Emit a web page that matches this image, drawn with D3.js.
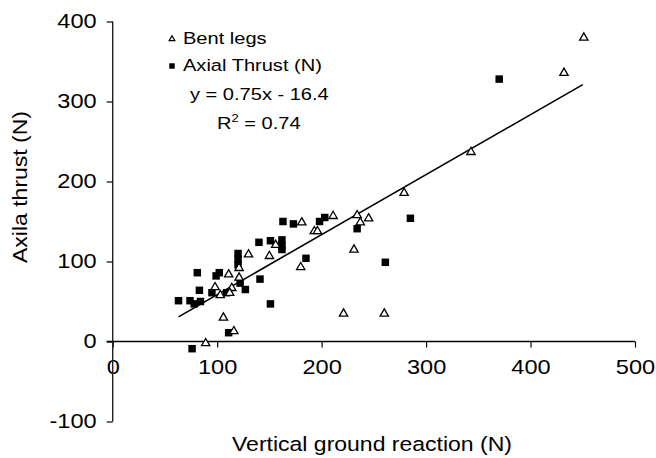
<!DOCTYPE html>
<html>
<head>
<meta charset="utf-8">
<script src="https://cdn.jsdelivr.net/npm/d3@7"></script>
<style>
  html, body { margin: 0; padding: 0; background: #fff; }
  svg { display: block; }
  text { font-family: "Liberation Sans", Arial, sans-serif; fill: #000; }
</style>
</head>
<body>
<svg id="chart" width="656" height="458"></svg>
<script>
// ---- data ----
const bentX = [451, 432, 343, 279, 234, 237, 245, 211, 181, 193, 196, 231, 180, 156, 150, 130, 121, 111, 121, 98, 114, 112, 103, 106, 116, 89, 221, 260];
const bentY = [381, 337, 238, 187, 159, 150, 155, 158, 150, 139, 139, 116, 94, 122, 108, 110, 93, 85, 81, 69, 68, 62, 59, 31, 14, -1, 36, 36];
const thrustX = [370, 285, 261, 234, 203, 198, 185, 173, 163, 162, 162, 162, 151, 140, 141, 151, 120, 120, 120, 81, 102, 99, 122, 127, 83, 95, 109, 63, 74, 78, 84, 111, 76];
const thrustY = [328, 154, 99, 141, 155, 150, 104, 147, 150, 127, 120, 115, 126, 124, 78, 47, 110, 103, 96, 86, 86, 82, 73, 65, 64, 61, 61, 51, 51, 47, 50, 11, -9];
const xTicks = [0, 100, 200, 300, 400, 500];
const yTicks = [-100, 0, 100, 200, 300, 400];
const fitSlope = 0.75, fitIntercept = -16.4;
const fitRange = [63, 450];
const seriesNames = ["Bent legs", "Axial Thrust (N)"];
const xTitle = "Vertical ground reaction  (N)";
const yTitle = "Axila thrust (N)";

// ---- layout ----
const SX = 1.18; // horizontal text stretch of the original
const svg = d3.select("#chart");
const x = d3.scaleLinear().domain([0, 500]).range([112.7, 635]);
const y = d3.scaleLinear().domain([-100, 400]).range([421.5, 21.5]);

function stretchedText(g, tx, ty, str, size, anchor) {
  return g.append("text")
    .attr("transform", `translate(${tx},${ty}) scale(${SX},1)`)
    .attr("text-anchor", anchor || "start")
    .style("font-size", size + "px")
    .text(str);
}
const fmt = d => String(d);

// x axis at y = 0
const xAxis = svg.append("g")
  .attr("transform", `translate(0,${y(0)})`)
  .call(d3.axisBottom(x).tickValues(xTicks).tickSize(6).tickPadding(12).tickFormat(fmt));
xAxis.select(".domain").attr("d", `M${x(0) - 6},0H${x(500)}`).attr("stroke", "#000").attr("stroke-width", 1.4);
xAxis.selectAll(".tick line").attr("stroke", "#000").attr("stroke-width", 1.2);
xAxis.selectAll(".tick text")
  .style("font-size", "20px").style("font-family", "Liberation Sans, Arial, sans-serif")
  .attr("fill", "#000")
  .attr("transform", `scale(${SX},1)`);

// y axis at x = 0
const yAxis = svg.append("g")
  .attr("transform", `translate(${x(0)},0)`)
  .call(d3.axisLeft(y).tickValues(yTicks).tickSize(6).tickPadding(10).tickFormat(fmt));
yAxis.select(".domain").attr("d", `M0,${y(400)}V${y(-100)}`).attr("stroke", "#222").attr("stroke-width", 1.4);
yAxis.selectAll(".tick line").attr("stroke", "#000").attr("stroke-width", 1.2);
yAxis.selectAll(".tick text")
  .style("font-size", "20px").style("font-family", "Liberation Sans, Arial, sans-serif")
  .attr("fill", "#000")
  .each(function () {
    const t = d3.select(this);
    const tx = +t.attr("x");
    t.attr("x", 0).attr("transform", `translate(${tx},0) scale(${SX},1)`);
  });

// regression line
const fitData = fitRange.map(v => [v, fitSlope * v + fitIntercept]);
svg.append("path")
  .datum(fitData)
  .attr("d", d3.line().x(d => x(d[0])).y(d => y(d[1])))
  .attr("stroke", "#000").attr("stroke-width", 1.6).attr("fill", "none");

// points
const bent = bentX.map((v, i) => [v, bentY[i]]);
const thrust = thrustX.map((v, i) => [v, thrustY[i]]);
const tri = d3.symbol().type(d3.symbolTriangle).size(30);
const sq = d3.symbol().type(d3.symbolSquare).size(56);

svg.append("g").selectAll("path").data(thrust).join("path")
  .attr("d", sq)
  .attr("transform", d => `translate(${x(d[0])},${y(d[1])})`)
  .attr("fill", "#000");

svg.append("g").selectAll("path").data(bent).join("path")
  .attr("d", tri)
  .attr("transform", d => `translate(${x(d[0])},${y(d[1]) + 1})`)
  .attr("fill", "#fff").attr("stroke", "#000").attr("stroke-width", 1.3);

// legend
const leg = svg.append("g");
leg.append("path").attr("d", d3.symbol().type(d3.symbolTriangle).size(14)())
  .attr("transform", "translate(172,39)")
  .attr("fill", "#fff").attr("stroke", "#000").attr("stroke-width", 1.2);
stretchedText(leg, 183, 44, seriesNames[0], 17);
leg.append("path").attr("d", d3.symbol().type(d3.symbolSquare).size(30)())
  .attr("transform", "translate(172,66)")
  .attr("fill", "#000");
stretchedText(leg, 183, 71, seriesNames[1], 17);

// equation
stretchedText(svg, 190, 100, `y = ${fitSlope}x - ${Math.abs(fitIntercept)}`, 17);
const r2 = svg.append("text")
  .attr("transform", `translate(217,129) scale(${SX},1)`)
  .style("font-size", "17px");
r2.append("tspan").text("R");
r2.append("tspan").attr("dy", -7).style("font-size", "11px").text("2");
r2.append("tspan").attr("dy", 7).text(" = 0.74");

// axis titles
stretchedText(svg, 372, 451, xTitle, 19.5, "middle");
svg.append("text")
  .attr("transform", `translate(27,187) rotate(-90) scale(${SX},1)`)
  .attr("text-anchor", "middle")
  .style("font-size", "19.5px")
  .text(yTitle);
</script>
</body>
</html>
